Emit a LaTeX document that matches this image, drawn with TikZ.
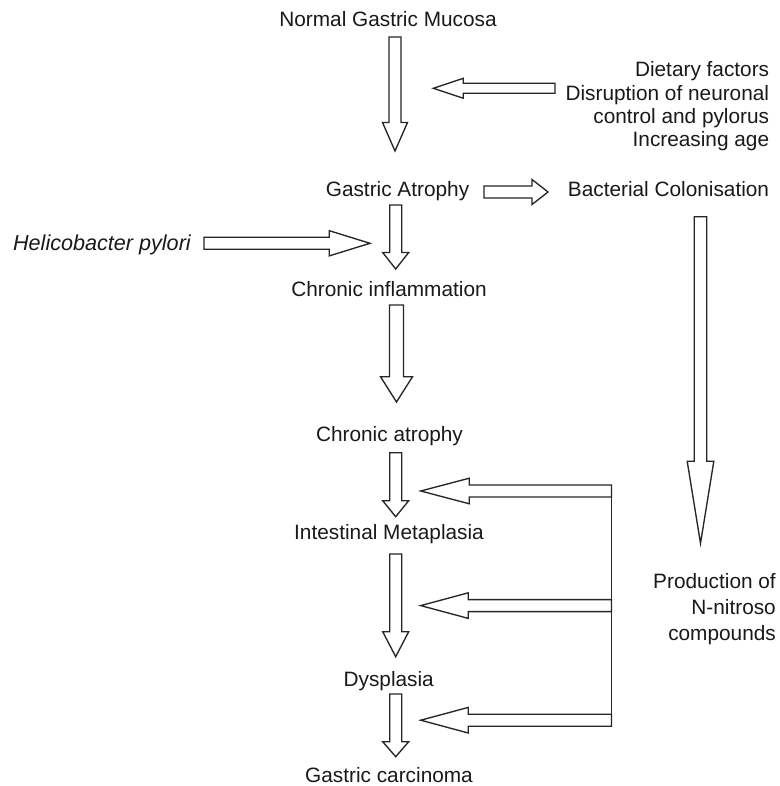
\documentclass[tikz,border=0pt]{standalone}
\usepackage{fontspec}
\setmainfont{Liberation Sans}
\usetikzlibrary{calc}

% hollow block arrow: from, to, shaft half width, head half width, head length
\newcommand{\fatarrow}[5]{%
  \path ($(#2)!#5!(#1)$) coordinate (fathead);
  \draw[fatline] ($(#1)!#3!90:(#2)$) -- ($(fathead)!#3!90:(#2)$) -- ($(fathead)!#4!90:(#2)$) -- (#2)
    -- ($(fathead)!#4!-90:(#2)$) -- ($(fathead)!#3!-90:(#2)$) -- ($(#1)!#3!-90:(#2)$) -- cycle;
}

\begin{document}
\begin{tikzpicture}[x=1pt,y=-1pt,
  fatline/.style={draw=black!85, line width=1.35pt, line join=miter, fill=white},
  lbl/.style={font=\fontsize{20.8}{23.3}\selectfont, inner sep=0pt, text=black!90}]

\useasboundingbox (0,0) rectangle (779,786);

\node (normal) [lbl, anchor=base] at (388,26.7) {Normal Gastric Mucosa};
\node (factors) [lbl, align=right, anchor=north east] at (769.3,61.6) {Dietary factors\\Disruption of neuronal\\control and pylorus\\Increasing age};
\node (gatrophy) [lbl, anchor=base] at (397.5,196.7) {Gastric Atrophy};
\node (bact) [lbl, anchor=base east] at (769.3,196.7) {Bacterial Colonisation};
\node (hpylori) [lbl, font=\fontsize{21.6}{24}\selectfont, anchor=base east] at (191,250) {\itshape Helicobacter pylori};
\node (chinfl) [lbl, anchor=base] at (389,296.7) {Chronic inflammation};
\node (chatr) [lbl, anchor=base] at (389.5,441.7) {Chronic atrophy};
\node (intmet) [lbl, anchor=base] at (389,539.3) {Intestinal Metaplasia};
\node (dysp) [lbl, anchor=base] at (388.7,686) {Dysplasia};
\node (gcarc) [lbl, anchor=base] at (389,782.7) {Gastric carcinoma};
\node (nitroso) [lbl, font=\fontsize{20.8}{26}\selectfont, align=right, anchor=north east] at (776,573) {Production of\\N-nitroso\\compounds};

\node (a1s) [coordinate] at (395,37) {};
\node (a1e) [coordinate] at (395,151) {};
\node (dfs) [coordinate] at (555,88.3) {};
\node (dfe) [coordinate] at (433.3,88.3) {};
\node (bcs) [coordinate] at (484,192) {};
\node (bce) [coordinate] at (548,192) {};
\node (a2s) [coordinate] at (395.7,205) {};
\node (a2e) [coordinate] at (395.7,269) {};
\node (hps) [coordinate] at (204,243.3) {};
\node (hpe) [coordinate] at (370,243.3) {};
\node (a3s) [coordinate] at (396.5,305) {};
\node (a3e) [coordinate] at (396.5,402) {};
\node (a4s) [coordinate] at (395.7,452.7) {};
\node (a4e) [coordinate] at (395.7,516.7) {};
\node (a5s) [coordinate] at (395.7,554) {};
\node (a5e) [coordinate] at (395.7,656.7) {};
\node (a6s) [coordinate] at (395.7,694) {};
\node (a6e) [coordinate] at (395.7,756.7) {};
\node (nts) [coordinate] at (700.5,216.7) {};
\node (nte) [coordinate] at (700.5,543.3) {};
\node (l1s) [coordinate] at (611.5,491) {};
\node (l1e) [coordinate] at (420.7,491) {};
\node (l2s) [coordinate] at (611.5,605.6) {};
\node (l2e) [coordinate] at (420.7,605.6) {};
\node (l3s) [coordinate] at (611.5,720.2) {};
\node (l3e) [coordinate] at (420.7,720.2) {};

\fatarrow{a1s}{a1e}{6pt}{12.5pt}{28.5pt}
\fatarrow{dfs}{dfe}{5pt}{10pt}{30pt}
\fatarrow{bcs}{bce}{6pt}{12.5pt}{16pt}
\fatarrow{a2s}{a2e}{6pt}{13pt}{16.5pt}
\fatarrow{hps}{hpe}{6pt}{12.6pt}{40.7pt}
\fatarrow{a3s}{a3e}{7pt}{16pt}{25.3pt}
\fatarrow{a4s}{a4e}{6pt}{13pt}{16pt}
\fatarrow{a5s}{a5e}{6pt}{13pt}{25pt}
\fatarrow{a6s}{a6e}{6pt}{13pt}{15pt}
\fatarrow{nts}{nte}{6.3pt}{13.3pt}{82pt}
\fatarrow{l1s}{l1e}{6pt}{12.8pt}{48.6pt}
\fatarrow{l2s}{l2e}{6pt}{12.8pt}{47.6pt}
\fatarrow{l3s}{l3e}{6pt}{12.8pt}{47.6pt}

\draw[fatline] ([yshift=6pt]l1s) -- ([yshift=-6pt]l3s);

\end{tikzpicture}
\end{document}
